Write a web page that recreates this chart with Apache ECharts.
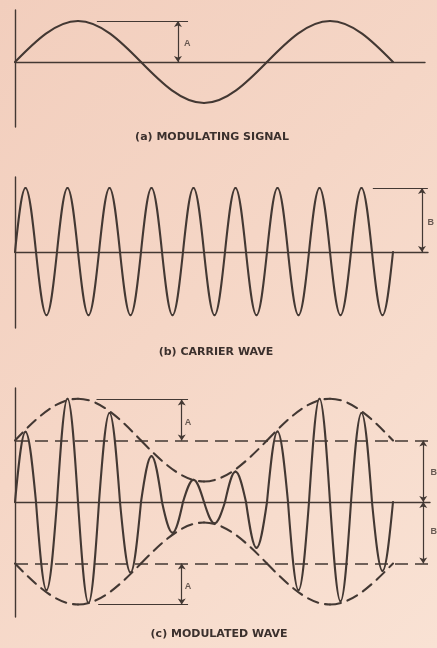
<!DOCTYPE html>
<html>
<head>
<meta charset="utf-8">
<script src="https://cdn.jsdelivr.net/npm/echarts@6/dist/echarts.min.js"></script>
<style>
  html, body { margin: 0; padding: 0; }
  body { background: linear-gradient(135deg, #f2cebd 0%, #f5d6c6 45%, #f9e2d4 100%); }
  #chart { width: 437px; height: 648px; }
</style>
</head>
<body>
<div id="chart"></div>
<script>
// ---- Data (x in carrier cycles, y in units of A) ----
// Every curve is given by its mid-level crossings and its extremes, alternating
// (mid, extreme, mid, extreme, ...).

// (a) modulating signal
const modulatingT = [0, 1.5, 3, 4.5, 6, 7.5, 9];
const modulatingY = [0, 1, 0, -1, 0, 1, 0];

// (b) carrier wave
const carrierT = [0,0.25,0.5,0.75,1,1.25,1.5,1.75,2,2.25,2.5,2.75,3,3.25,3.5,3.75,4,4.25,4.5,4.75,5,5.25,5.5,5.75,6,6.25,6.5,6.75,7,7.25,7.5,7.75,8,8.25,8.5,8.75,9];
const carrierY = [0,1.56,0,-1.54, 0,1.56,0,-1.54, 0,1.56,0,-1.54, 0,1.56,0,-1.54, 0,1.56,0,-1.54,
                  0,1.56,0,-1.54, 0,1.56,0,-1.54, 0,1.56,0,-1.54, 0,1.56,0,-1.54, 0];

// (c) modulated wave (same time points as the carrier)
const modulatedY = [0,1.71,0,-2.15, 0,2.52,0,-2.46, 0,2.17,0,-1.72, 0,1.12,0,-0.75, 0,0.54,0,-0.52,
                    0,0.74,0,-1.12, 0,1.72,0,-2.15, 0,2.52,0,-2.42, 0,2.17,0,-1.68, 0];

// (c) envelope (dashed)
const envelopeT = [0, 1.5, 3, 4.5, 6, 7.5, 9];
const envelopeUpper = [1.5, 2.52, 1.5, 0.5, 1.5, 2.52, 1.5];
const envelopeLower = [-1.5, -2.5, -1.5, -0.5, -1.5, -2.5, -1.5];

// amplitudes used for the reference marks
const ampA = 1;            // modulating amplitude
const ampBcarrier = 1.56;  // carrier amplitude in (b)
const ampB = 1.5;          // unmodulated carrier level in (c)

// labels
const panelTitles = ['(a) MODULATING SIGNAL', '(b) CARRIER WAVE', '(c) MODULATED WAVE'];
const markLetters = ['A', 'B'];

// ---- Chart ----
const INK = '#433833';

// segments between consecutive key points: [t0, y0, t1, y1, kind] (kind 0: mid->extreme, 1: extreme->mid)
const segments = (ts, ys) => ts.slice(0, -1).map((t, i) => [t, ys[i], ts[i + 1], ys[i + 1], i % 2]);

// quarter-sine cubic bezier between a mid-level point and an extreme
function renderQuarterWave(dash) {
  return function (params, api) {
    const p0 = api.coord([api.value(0), api.value(1)]);
    const p1 = api.coord([api.value(2), api.value(3)]);
    const dx = p1[0] - p0[0], dy = p1[1] - p0[1];
    let c1, c2;
    if (api.value(4) === 0) {
      c1 = [p0[0] + 0.3259 * dx, p0[1] + 0.5119 * dy];
      c2 = [p0[0] + 0.6505 * dx, p1[1]];
    } else {
      c1 = [p0[0] + 0.3495 * dx, p0[1]];
      c2 = [p0[0] + 0.6741 * dx, p0[1] + 0.4881 * dy];
    }
    return {
      type: 'bezierCurve',
      shape: { x1: p0[0], y1: p0[1], x2: p1[0], y2: p1[1],
               cpx1: c1[0], cpy1: c1[1], cpx2: c2[0], cpy2: c2[1] },
      style: { stroke: INK, lineWidth: 2.1, fill: 'none', lineDash: dash || null, lineCap: 'round' },
      silent: true
    };
  };
}

const waveSeries = (gi, ts, ys, dash, extra) => Object.assign({
  type: 'custom', xAxisIndex: gi, yAxisIndex: gi, data: segments(ts, ys),
  renderItem: renderQuarterWave(dash), clip: false, silent: true, animation: false,
  encode: { x: [0, 2], y: [1, 3] }
}, extra || {});

const hiddenX = (gi, max) => ({
  type: 'value', gridIndex: gi, min: 0, max: max,
  axisLine: { show: true, onZero: true, lineStyle: { color: INK, width: 1.4 } },
  axisTick: { show: false }, axisLabel: { show: false }, splitLine: { show: false }
});
const hiddenY = (gi, min, max) => ({
  type: 'value', gridIndex: gi, min: min, max: max,
  axisLine: { show: true, lineStyle: { color: INK, width: 1.4 } },
  axisTick: { show: false }, axisLabel: { show: false }, splitLine: { show: false }
});

const guide = (p0, p1) => [{ coord: p0, symbol: 'none' }, { coord: p1, symbol: 'none' }];
const arrow = (p0, p1) => [{ coord: p0, symbol: 'arrow' }, { coord: p1, symbol: 'arrow' }];
const markStyle = { color: INK, width: 1.2, type: 'solid' };
const markLineOf = (data) => ({
  silent: true, animation: false, symbolSize: 6, label: { show: false }, lineStyle: markStyle, data: data
});

const letterSeries = (gi, pts) => ({
  type: 'scatter', xAxisIndex: gi, yAxisIndex: gi, data: pts, symbolSize: 1, silent: true, clip: false,
  itemStyle: { color: 'rgba(0,0,0,0)' }, animation: false,
  label: { show: true, position: 'inside', formatter: p => p.data[2],
           color: INK, fontSize: 9, fontWeight: 'bold', fontFamily: 'Liberation Sans, Arial, sans-serif' }
});

const chart = echarts.init(document.getElementById('chart'), null, { renderer: 'canvas' });

chart.setOption({
  backgroundColor: 'transparent',
  animation: false,
  grid: [
    { left: 15, top: 10,  width: 410, height: 117 },
    { left: 15, top: 177, width: 413, height: 151 },
    { left: 15, top: 388, width: 415, height: 229 }
  ],
  xAxis: [ hiddenX(0, 410 / 42), hiddenX(1, 413 / 42), hiddenX(2, 415 / 42) ],
  yAxis: [ hiddenY(0, -65 / 41, 52 / 41), hiddenY(1, -76 / 41, 75 / 41), hiddenY(2, -115 / 41, 114 / 41) ],
  series: [
    // (a)
    waveSeries(0, modulatingT, modulatingY, null, {
      markLine: markLineOf([
        guide([1.95, ampA], [4.12, ampA]),
        arrow([3.88, 0], [3.88, ampA])
      ])
    }),
    letterSeries(0, [[4.1, 0.46, markLetters[0]]]),
    // (b)
    waveSeries(1, carrierT, carrierY, null, {
      markLine: markLineOf([
        guide([8.52, ampBcarrier], [9.83, ampBcarrier]),
        arrow([9.69, 0], [9.69, ampBcarrier])
      ])
    }),
    letterSeries(1, [[9.9, 0.73, markLetters[1]]]),
    // (c)
    waveSeries(2, carrierT, modulatedY, null, {
      markLine: markLineOf([
        guide([1.94, ampB + ampA], [4.12, ampB + ampA]),
        guide([1.98, -(ampB + ampA)], [4.12, -(ampB + ampA)]),
        arrow([3.97, ampB], [3.97, ampB + ampA]),
        arrow([3.97, -ampB], [3.97, -(ampB + ampA)]),
        arrow([9.72, 0], [9.72, ampB]),
        arrow([9.72, 0], [9.72, -ampB]),
        [{ coord: [0, ampB], symbol: 'none', lineStyle: { type: [13, 7], width: 1.5, color: INK } },
         { coord: [9.88, ampB], symbol: 'none' }],
        [{ coord: [0, -ampB], symbol: 'none', lineStyle: { type: [13, 7], width: 1.5, color: INK } },
         { coord: [9.88, -ampB], symbol: 'none' }]
      ])
    }),
    waveSeries(2, envelopeT, envelopeUpper, [11, 7]),
    waveSeries(2, envelopeT, envelopeLower, [11, 7]),
    letterSeries(2, [
      [4.12, 1.93, markLetters[0]], [4.12, -2.07, markLetters[0]],
      [9.97, 0.71, markLetters[1]], [9.97, -0.73, markLetters[1]]
    ])
  ],
  graphic: [
    { type: 'text', x: 212, y: 137, style: { text: panelTitles[0], textAlign: 'center', textVerticalAlign: 'middle',
      font: 'bold 11px "DejaVu Sans", sans-serif', fill: '#3b302d' } },
    { type: 'text', x: 216, y: 352, style: { text: panelTitles[1], textAlign: 'center', textVerticalAlign: 'middle',
      font: 'bold 11px "DejaVu Sans", sans-serif', fill: '#3b302d' } },
    { type: 'text', x: 219, y: 634, style: { text: panelTitles[2], textAlign: 'center', textVerticalAlign: 'middle',
      font: 'bold 11px "DejaVu Sans", sans-serif', fill: '#3b302d' } }
  ]
});
</script>
</body>
</html>
